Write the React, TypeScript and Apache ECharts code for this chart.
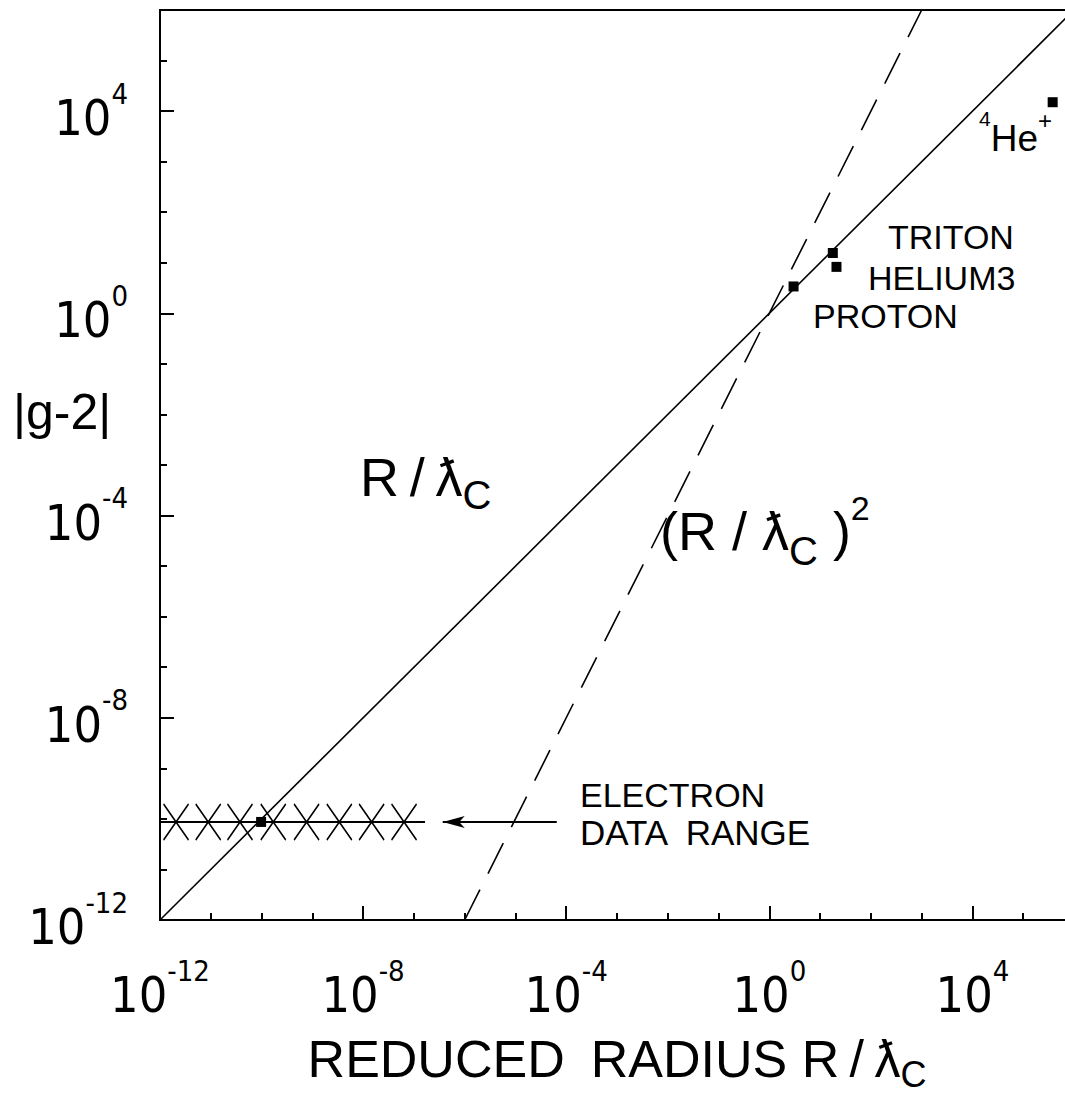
import React, { useEffect, useRef } from "react";
import * as echarts from "echarts";

// Reference relations drawn as straight lines on the log-log plane
const linearRelation: number[][] = [
  [1e-12, 1e-12],
  [1e6, 1e6],
];
const quadraticRelation: number[][] = [
  [1e-6, 1e-12],
  [1e3, 1e6],
];

// Measured particles: reduced radius R/ƛC and |g-2|
const particleNames = ["ELECTRON", "PROTON", "TRITON", "HELIUM3", "4He+"];
const particleRadius = [9.8e-11, 3.0, 17.8, 21, 3.8e5];
const particleG2 = [8.7e-11, 3.4, 15.6, 8.3, 1.5e4];

// Electron data range: level, extent and the X markers along it
const electronRangeLevel = 8.7e-11;
const electronRangeSpan = [1e-12, 1.66e-7];
const electronRangeMarks = [2.07e-12, 8.9e-12, 3.76e-11, 1.7e-10, 7.7e-10, 3.4e-9, 1.47e-8, 6.4e-8];
const arrowSpan = [6.5e-5, 3.7e-7];

// Axis extent in decades
const axisMin = 1e-12;
const axisMax = 1e6;
const labelStep = 4;

const DIGIT_FONT = "'Liberation Sans Narrow', 'DejaVu Sans Condensed', 'Liberation Sans', sans-serif";
const FONT = "'Liberation Sans', Arial, 'DejaVu Sans', sans-serif";
const INK = "#000";
const THIN = "\u2009";
const WIDE = "\u2002";

const powerLabel = (v: number) => {
  const e = Math.round(Math.log10(v));
  return `{b|10}{s|${e}}`;
};

const labelRich = {
  b: { fontSize: 50, lineHeight: 64, verticalAlign: "bottom", fontFamily: DIGIT_FONT, color: INK },
  s: { fontSize: 29, lineHeight: 30, verticalAlign: "top", fontFamily: DIGIT_FONT, color: INK },
};

function majorAxis(kind: "x" | "y") {
  return {
    type: "log",
    logBase: 10,
    min: axisMin,
    max: axisMax,
    interval: labelStep,
    position: kind === "x" ? "bottom" : "left",
    axisLine: { show: true, lineStyle: { color: INK, width: 2 } },
    axisTick: { show: true, inside: true, length: 14, lineStyle: { color: INK, width: 2 } },
    axisLabel: {
      show: true,
      margin: kind === "x" ? 36 : 32,
      formatter: powerLabel,
      rich: labelRich,
      showMaxLabel: false,
    },
    splitLine: { show: false },
  };
}

function minorAxis(kind: "x" | "y") {
  return {
    type: "log",
    logBase: 10,
    min: axisMin,
    max: axisMax,
    interval: 1,
    position: kind === "x" ? "bottom" : "left",
    axisLine: { show: false },
    axisTick: { show: true, inside: true, length: 7, lineStyle: { color: INK, width: 2 } },
    axisLabel: { show: false },
    splitLine: { show: false },
  };
}

function txt(text: string, x: number, y: number, size: number, rich?: Record<string, unknown>) {
  return {
    type: "text",
    x,
    y,
    silent: true,
    style: {
      text,
      fontSize: size,
      fontFamily: FONT,
      fill: INK,
      rich,
      align: "left",
      verticalAlign: "middle",
      textAlign: "left",
      textVerticalAlign: "middle",
    },
  };
}

// base / subscript / superscript pieces for formula-style labels
const piece = (size: number, lineHeight: number, verticalAlign: string) => ({
  fontSize: size,
  lineHeight,
  verticalAlign,
  fontFamily: FONT,
  color: INK,
});

const ratio = `R${THIN}/${THIN}ƛ`;
const ratioSpaced = "R / ƛ";

export default function App() {
  const ref = useRef<HTMLDivElement>(null);

  useEffect(() => {
    if (!ref.current) return;
    const chart = echarts.init(ref.current, undefined, { renderer: "svg" });

    const squares = particleRadius.map((r, i) => ({ name: particleNames[i], value: [r, particleG2[i]] }));

    chart.setOption({
      animation: false,
      backgroundColor: "#fff",
      grid: {
        left: 160,
        top: 10,
        right: -9,
        bottom: 176,
        show: true,
        borderColor: INK,
        borderWidth: 2,
        containLabel: false,
        outerBoundsMode: "none",
      },
      xAxis: [
        {
          ...majorAxis("x"),
          name: `{b|REDUCED${WIDE}RADIUS ${ratio}}{c|C}`,
          nameLocation: "middle",
          nameGap: 106,
          nameTextStyle: {
            rich: {
              b: piece(52, 66, "middle"),
              c: piece(36, 40, "bottom"),
            },
          },
        },
        minorAxis("x"),
      ],
      yAxis: [majorAxis("y"), minorAxis("y")],
      series: [
        {
          name: "R/ƛC",
          type: "line",
          data: linearRelation,
          showSymbol: false,
          symbol: "none",
          lineStyle: { color: INK, width: 1.6 },
          silent: true,
        },
        {
          name: "(R/ƛC)^2",
          type: "line",
          data: quadraticRelation,
          showSymbol: false,
          symbol: "none",
          lineStyle: { color: INK, width: 1.6, type: [34, 18] },
          silent: true,
        },
        {
          name: "electron range",
          type: "line",
          data: electronRangeSpan.map((x) => [x, electronRangeLevel]),
          showSymbol: false,
          symbol: "none",
          lineStyle: { color: INK, width: 2 },
          silent: true,
          markLine: {
            silent: true,
            animation: false,
            label: { show: false },
            lineStyle: { color: INK, width: 2, type: "solid" },
            symbol: ["none", "arrow"],
            symbolSize: [9, 22],
            data: [
              [
                { coord: [arrowSpan[0], electronRangeLevel] },
                { coord: [arrowSpan[1], electronRangeLevel] },
              ],
            ],
          },
        },
        {
          name: "electron marks",
          type: "scatter",
          data: electronRangeMarks.map((x) => [x, electronRangeLevel]),
          symbol: "path://M0,0L10,14M10,0L0,14",
          symbolSize: [25, 36],
          itemStyle: { color: "transparent", borderColor: INK, borderWidth: 1.6, opacity: 1 },
          silent: true,
        },
        {
          name: "particles",
          type: "scatter",
          data: squares,
          symbol: "rect",
          symbolSize: 10,
          itemStyle: { color: INK, opacity: 1 },
          z: 5,
          silent: true,
        },
      ],
      graphic: [
        txt("|g-2|", 13, 412, 50),
        txt(`{b|${ratio}}{c|C}`, 360, 477, 54, {
          b: piece(54, 76, "middle"),
          c: piece(40, 40, "bottom"),
        }),
        txt(`{b|(${ratioSpaced}}{c|C}{b| )}{p|2}`, 660, 531, 54, {
          b: piece(54, 80, "middle"),
          c: piece(40, 42, "bottom"),
          p: piece(34, 42, "top"),
        }),
        txt("TRITON", 888, 237, 34),
        txt("HELIUM3", 868, 278, 34),
        txt("PROTON", 813, 316, 34),
        txt("{s|4}{b|He}{p|+}", 979, 138, 37, {
          s: piece(21, 32, "top"),
          b: piece(37, 60, "middle"),
          p: piece(24, 32, "top"),
        }),
        txt("ELECTRON", 580, 795, 34),
        txt(`DATA${WIDE}RANGE`, 580, 832, 35),
      ],
    });

    return () => chart.dispose();
  }, []);

  return (
    <div
      ref={ref}
      style={{ position: "absolute", left: 0, top: 0, width: 1065, height: 1096, background: "#fff" }}
    />
  );
}
